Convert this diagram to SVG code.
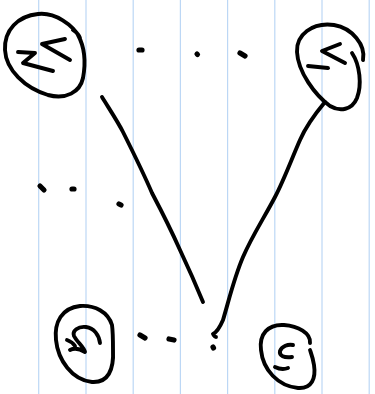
<svg xmlns="http://www.w3.org/2000/svg" width="375" height="394" viewBox="0 0 375 394">
<style>
.rule{stroke:#bcd7f5;stroke-width:1.2}
.ink{fill:none;stroke:#000;stroke-width:3.9;stroke-linecap:round;stroke-linejoin:round}
.dot{fill:none;stroke:#000;stroke-width:5.2;stroke-linecap:round}
</style>
<rect width="375" height="394" fill="#fff"/>
<g id="rules">
<line class="rule" x1="38.7" y1="0" x2="38.7" y2="394"/>
<line class="rule" x1="86" y1="0" x2="86" y2="394"/>
<line class="rule" x1="133.2" y1="0" x2="133.2" y2="394"/>
<line class="rule" x1="180.4" y1="0" x2="180.4" y2="394"/>
<line class="rule" x1="227.6" y1="0" x2="227.6" y2="394"/>
<line class="rule" x1="274.8" y1="0" x2="274.8" y2="394"/>
<line class="rule" x1="322" y1="0" x2="322" y2="394"/>
<line class="rule" x1="369.2" y1="0" x2="369.2" y2="394"/>
</g>
<g id="connectors">
<path class="ink" d="M102,97 C110,110 118,122 123,132 C133,152 143,172 152,193 C162,212 172,232 180,250 C188,267 196,285 203,302"/>
<path class="ink" d="M325,102 C315,114 306,126 300,140 C292,158 284,180 275,197 C264,218 252,236 243,257 C234,278 229,300 223,320 C220,327 217,332 213,334 C214,336 215,337 216,337"/>
</g>
<g id="dots">
<path class="dot" d="M139,50 L142,50"/>
<path class="dot" d="M197,54 L197.5,54.5"/>
<path class="dot" d="M240,53 L245,56"/>
<path class="dot" d="M40,186 L44,190"/>
<path class="dot" d="M72,189 L74,189"/>
<path class="dot" d="M119,204 L121,205"/>
<path class="dot" d="M140,335 L145,338"/>
<path class="dot" d="M169,339 L174,340"/>
<path class="dot" d="M213,347 L213.5,348"/>
</g>
<g id="node-top-left">
<path class="ink" d="M73,30 C76,32 79,34 80,38 C73,25 55,12 38,14 C18,16 4,30 5,50 C6,70 25,88 48,95 C66,100 80,92 83,78 C86,62 84,46 78,35"/>
<path class="ink" d="M65,39 L42,44 L70,60"/>
<path class="ink" d="M18,52 L35,53 L23,63 L53,71"/>
</g>
<g id="node-top-right">
<path class="ink" d="M363,60 C366,45 352,28 334,25 C312,22 296,35 297,52 C298,72 315,95 330,106 C340,112 352,110 357,98 C362,85 360,65 352,53"/>
<path class="ink" d="M340,44 L322,51 L345,63"/>
<path class="ink" d="M308,66 L328,68"/>
</g>
<g id="node-bottom-left">
<path class="ink" d="M112,325 C108,312 95,305 80,306 C62,308 54,322 56,340 C58,360 72,380 92,382 C108,383 114,370 113,350 C113,340 113,332 112,325 Z"/>
<path class="ink" d="M100,343 C99,335 94,328 86,327 C78,326 72,331 74,336 C77,342 84,347 85,352 C80,349 74,348 70,350 M75,346 C73,343 70,341 67,340"/>
</g>
<g id="node-bottom-right">
<path class="ink" d="M310,343 C311,333 298,326 284,325 C268,324 259,334 261,350 C263,370 278,386 298,388 C312,389 316,378 314,365 C313,358 311,353 310,350"/>
<path class="ink" d="M293,345 C288,344 282,346 280,351 C279,356 284,358 292,357"/>
<path class="ink" d="M275,367 C279,369 283,370 288,368"/>
</g>
</svg>
